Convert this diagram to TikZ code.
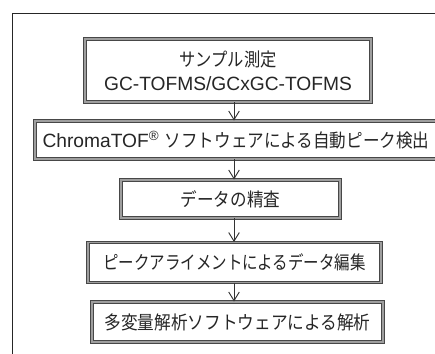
\documentclass[tikz,border=0pt]{standalone}
\usepackage{fontspec}
\usepackage{graphicx}
\setmainfont{Liberation Sans}
\newfontfamily\jp[Scale=0.97]{Noto Sans CJK JP}
\newcommand{\jpx}[2]{\scalebox{#1}[1]{\jp #2}}
\usetikzlibrary{arrows.meta}
\begin{document}
\begin{tikzpicture}[x=0.75pt,y=-0.75pt,
  stepbox/.style={draw=black!72, double=black!38, double distance=1.4pt, line width=0.7pt,
    fill=white, inner sep=0pt, align=center, text=black!85,
    font=\fontsize{14.4pt}{18pt}\selectfont},
  flow/.style={draw=black!80, line width=0.7pt, -{Straight Barb[length=6.5pt,width=8pt,line width=0.7pt]}},
  frame/.style={draw=black!85, line width=1.1pt}]
\useasboundingbox (0,0) rectangle (435,353);
\begin{scope}
\clip (0,0) rectangle (435,353);
\coordinate (fb) at (12.5,360);
\coordinate (fc) at (12.5,13.5);
\coordinate (fr) at (445,13.5);
\draw[frame] (fb) -- (fc) -- (fr);
\node[stepbox, minimum width=214.5pt, minimum height=47pt] (b1) at (228,70.5)
  {\jpx{0.875}{サンプル測定}\\GC-TOFMS/GCxGC-TOFMS};
\node[stepbox, minimum width=301.5pt, minimum height=28.5pt] (b2) at (236,140)
  {ChromaTOF\textsuperscript{®} \jpx{0.89}{ソフトウェアによる自動ピーク検出}};
\node[stepbox, minimum width=164pt, minimum height=28.5pt] (b3) at (230.5,199)
  {\jpx{0.89}{データの精査}};
\node[stepbox, minimum width=219.5pt, minimum height=30pt] (b4) at (234.5,262.5)
  {\jpx{0.83}{ピークアライメントによるデータ編集}};
\node[stepbox, minimum width=218pt, minimum height=30pt] (b5) at (237.5,322)
  {\jpx{0.895}{多変量解析ソフトウェアによる解析}};
\draw[flow] (b1.south -| 234,0) -- (b2.north -| 234,0);
\draw[flow] (b2.south -| 234,0) -- (b3.north -| 234,0);
\draw[flow] (b3.south -| 234,0) -- (b4.north -| 234,0);
\draw[flow] (b4.south -| 234,0) -- (b5.north -| 234,0);
\end{scope}
\end{tikzpicture}
\end{document}
